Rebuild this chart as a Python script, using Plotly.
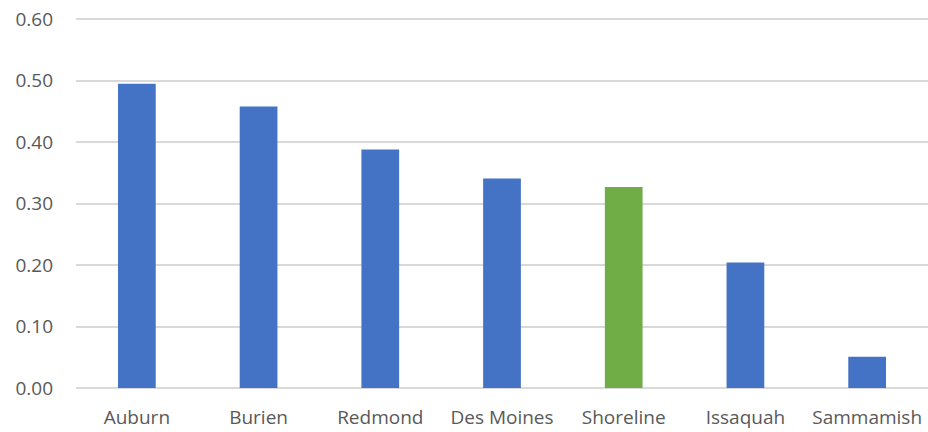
import plotly.graph_objects as go

cities = ["Auburn", "Burien", "Redmond", "Des Moines", "Shoreline", "Issaquah", "Sammamish"]
values = [0.495, 0.458, 0.388, 0.341, 0.327, 0.204, 0.051]
colors = ["#4472C4", "#4472C4", "#4472C4", "#4472C4", "#70AD47", "#4472C4", "#4472C4"]
ticks = [0.0, 0.1, 0.2, 0.3, 0.4, 0.5, 0.6]

fig = go.Figure(go.Bar(x=cities, y=values, marker=dict(color=colors, line=dict(width=0)),
                       hoverinfo="skip"))
fig.update_layout(
    width=928, height=432,
    margin=dict(l=76, r=0, t=18, b=44),
    paper_bgcolor="white", plot_bgcolor="white",
    bargap=0.69,
    showlegend=False,
    font=dict(family="Open Sans", size=19, color="#595959"),
)
fig.update_yaxes(range=[0, 0.602], tickvals=ticks, ticktext=[f"{t:.2f}" for t in ticks],
                 showgrid=True, gridcolor="#D9D9D9", gridwidth=1.5, zeroline=True,
                 zerolinecolor="#D9D9D9", zerolinewidth=1.5, ticks="", ticklabelstandoff=22,
                 automargin=False)
fig.update_xaxes(showgrid=False, showline=False, ticks="", ticklabelstandoff=16, automargin=False)
fig.write_html("out.html", config={"displayModeBar": False},
               post_script="document.body.style.margin='0';document.body.style.overflow='hidden';")
